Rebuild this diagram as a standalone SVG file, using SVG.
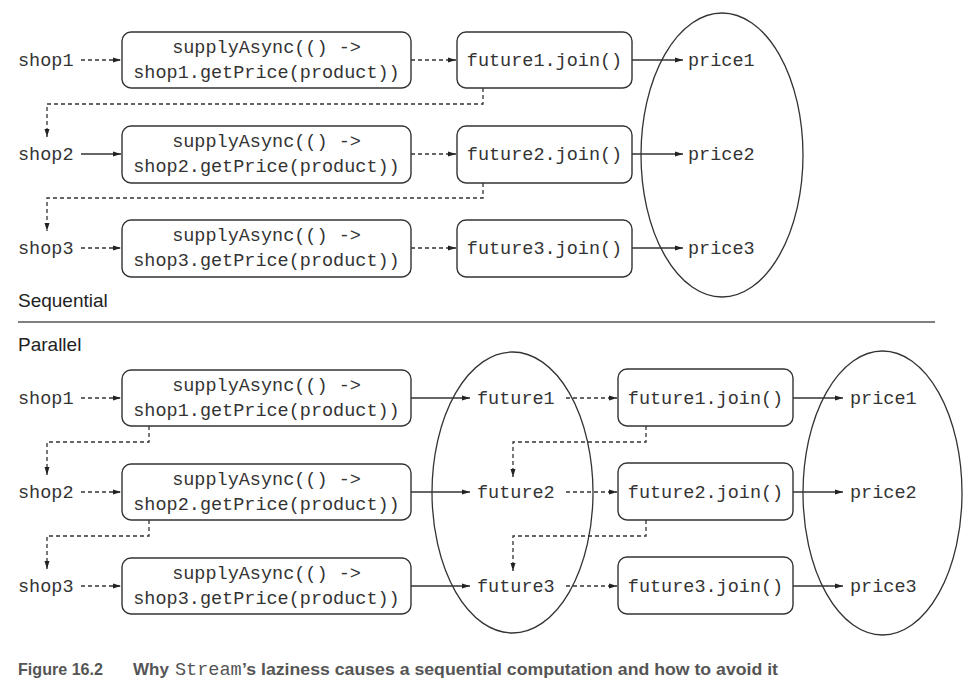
<svg xmlns="http://www.w3.org/2000/svg" width="971" height="691" viewBox="0 0 971 691">
<style>
  .box { fill: #fff; stroke: #333; stroke-width: 1.4; }
  .ell { fill: none; stroke: #333; stroke-width: 1.3; }
  .mono { font-family: "Liberation Mono", "Courier New", monospace; font-size: 18.5px; fill: #333; }
  .mid { text-anchor: middle; }
  .sans { font-family: "Liberation Sans", Arial, sans-serif; font-size: 19px; fill: #222; }
  .solid { fill: none; stroke: #333; stroke-width: 1.3; marker-end: url(#ah); }
  .dash { fill: none; stroke: #333; stroke-width: 1.3; stroke-dasharray: 4 3; marker-end: url(#ah); }
  .cap { font-family: "Liberation Sans", Arial, sans-serif; font-weight: bold; font-size: 17px; fill: #555; }
  .capmono { font-family: "Liberation Mono", "Courier New", monospace; font-weight: normal; font-size: 18.5px; }
</style>
<defs>
  <marker id="ah" viewBox="0 0 8 6" refX="8" refY="3" markerWidth="8" markerHeight="6" markerUnits="userSpaceOnUse" orient="auto">
    <path d="M0,0.5 L8,3 L0,5.5 z" fill="#222"/>
  </marker>
</defs>
<rect width="971" height="691" fill="#fff"/>

<!-- Sequential section nodes -->
<g id="s-shop1"><text class="mono" x="18" y="66">shop1</text></g>
<g id="s-shop2"><text class="mono" x="18" y="160">shop2</text></g>
<g id="s-shop3"><text class="mono" x="18" y="254">shop3</text></g>

<g id="s-supply1"><rect class="box" x="122" y="32" width="289" height="56" rx="9"/>
  <text class="mono mid" x="266.5" y="53">supplyAsync(() -&gt;</text>
  <text class="mono mid" x="266.5" y="78">shop1.getPrice(product))</text></g>
<g id="s-supply2"><rect class="box" x="122" y="126" width="289" height="57" rx="9"/>
  <text class="mono mid" x="266.5" y="147">supplyAsync(() -&gt;</text>
  <text class="mono mid" x="266.5" y="172">shop2.getPrice(product))</text></g>
<g id="s-supply3"><rect class="box" x="122" y="220" width="289" height="57" rx="9"/>
  <text class="mono mid" x="266.5" y="241">supplyAsync(() -&gt;</text>
  <text class="mono mid" x="266.5" y="266">shop3.getPrice(product))</text></g>

<g id="s-join1"><rect class="box" x="457" y="32" width="175" height="56" rx="9"/>
  <text class="mono mid" x="544.5" y="66">future1.join()</text></g>
<g id="s-join2"><rect class="box" x="457" y="126" width="175" height="57" rx="9"/>
  <text class="mono mid" x="544.5" y="160">future2.join()</text></g>
<g id="s-join3"><rect class="box" x="457" y="220" width="175" height="57" rx="9"/>
  <text class="mono mid" x="544.5" y="254">future3.join()</text></g>

<g id="s-prices"><ellipse class="ell" cx="722" cy="155" rx="81" ry="142"/>
  <text class="mono" x="688" y="66">price1</text>
  <text class="mono" x="688" y="160">price2</text>
  <text class="mono" x="688" y="254">price3</text></g>

<!-- Section labels -->
<g id="labels">
  <text class="sans" x="18" y="307">Sequential</text>
  <line x1="18" y1="322" x2="935" y2="322" stroke="#555" stroke-width="1.6"/>
  <text class="sans" x="18" y="351">Parallel</text>
</g>

<!-- Parallel section nodes -->
<g id="p-shop1"><text class="mono" x="18" y="404">shop1</text></g>
<g id="p-shop2"><text class="mono" x="18" y="498">shop2</text></g>
<g id="p-shop3"><text class="mono" x="18" y="592">shop3</text></g>

<g id="p-supply1"><rect class="box" x="122" y="370" width="289" height="56" rx="9"/>
  <text class="mono mid" x="266.5" y="391">supplyAsync(() -&gt;</text>
  <text class="mono mid" x="266.5" y="416">shop1.getPrice(product))</text></g>
<g id="p-supply2"><rect class="box" x="122" y="464" width="289" height="56" rx="9"/>
  <text class="mono mid" x="266.5" y="485">supplyAsync(() -&gt;</text>
  <text class="mono mid" x="266.5" y="510">shop2.getPrice(product))</text></g>
<g id="p-supply3"><rect class="box" x="122" y="558" width="289" height="56" rx="9"/>
  <text class="mono mid" x="266.5" y="579">supplyAsync(() -&gt;</text>
  <text class="mono mid" x="266.5" y="604">shop3.getPrice(product))</text></g>

<g id="p-futures"><ellipse class="ell" cx="512.5" cy="492.5" rx="80.5" ry="140.5"/>
  <text class="mono" x="477" y="404">future1</text>
  <text class="mono" x="477" y="498">future2</text>
  <text class="mono" x="477" y="592">future3</text></g>

<g id="p-join1"><rect class="box" x="618" y="369" width="175" height="57" rx="9"/>
  <text class="mono mid" x="705.5" y="404">future1.join()</text></g>
<g id="p-join2"><rect class="box" x="618" y="463" width="175" height="57" rx="9"/>
  <text class="mono mid" x="705.5" y="498">future2.join()</text></g>
<g id="p-join3"><rect class="box" x="618" y="557" width="175" height="57" rx="9"/>
  <text class="mono mid" x="705.5" y="592">future3.join()</text></g>

<g id="p-prices"><ellipse class="ell" cx="882.5" cy="493" rx="79.5" ry="142"/>
  <text class="mono" x="850" y="404">price1</text>
  <text class="mono" x="850" y="498">price2</text>
  <text class="mono" x="850" y="592">price3</text></g>

<!-- Connectors -->
<g id="connectors">
  <!-- sequential -->
  <path class="dash" d="M81,60 H121"/>
  <path class="solid" d="M81,154 H121"/>
  <path class="dash" d="M81,248 H121"/>
  <path class="dash" d="M411,60 H456"/>
  <path class="dash" d="M411,154 H456"/>
  <path class="dash" d="M411,248 H456"/>
  <path class="solid" d="M632,60 H683"/>
  <path class="solid" d="M632,154 H683"/>
  <path class="solid" d="M632,248 H683"/>
  <path class="dash" d="M483,88 V104 H47 V137"/>
  <path class="dash" d="M483,183 V198 H47 V231"/>
  <!-- parallel -->
  <path class="dash" d="M81,398 H121"/>
  <path class="dash" d="M81,492 H121"/>
  <path class="dash" d="M81,586 H121"/>
  <path class="solid" d="M411,398 H470"/>
  <path class="solid" d="M411,492 H470"/>
  <path class="solid" d="M411,586 H470"/>
  <path class="dash" d="M566,398 H617"/>
  <path class="dash" d="M566,492 H617"/>
  <path class="dash" d="M566,586 H617"/>
  <path class="solid" d="M793,398 H843"/>
  <path class="solid" d="M793,492 H843"/>
  <path class="solid" d="M793,586 H843"/>
  <path class="dash" d="M149,426 V442 H47 V475"/>
  <path class="dash" d="M149,520 V536 H47 V569"/>
  <path class="dash" d="M646,426 V442 H513 V477"/>
  <path class="dash" d="M646,520 V536 H513 V571"/>
</g>

<!-- Caption -->
<g id="caption">
  <text class="cap" y="675"><tspan x="18" textLength="85" lengthAdjust="spacingAndGlyphs">Figure 16.2</tspan><tspan x="133">Why</tspan><tspan class="capmono" x="175">Stream</tspan><tspan x="242" textLength="536" lengthAdjust="spacingAndGlyphs">’s laziness causes a sequential computation and how to avoid it</tspan></text>
</g>
</svg>
